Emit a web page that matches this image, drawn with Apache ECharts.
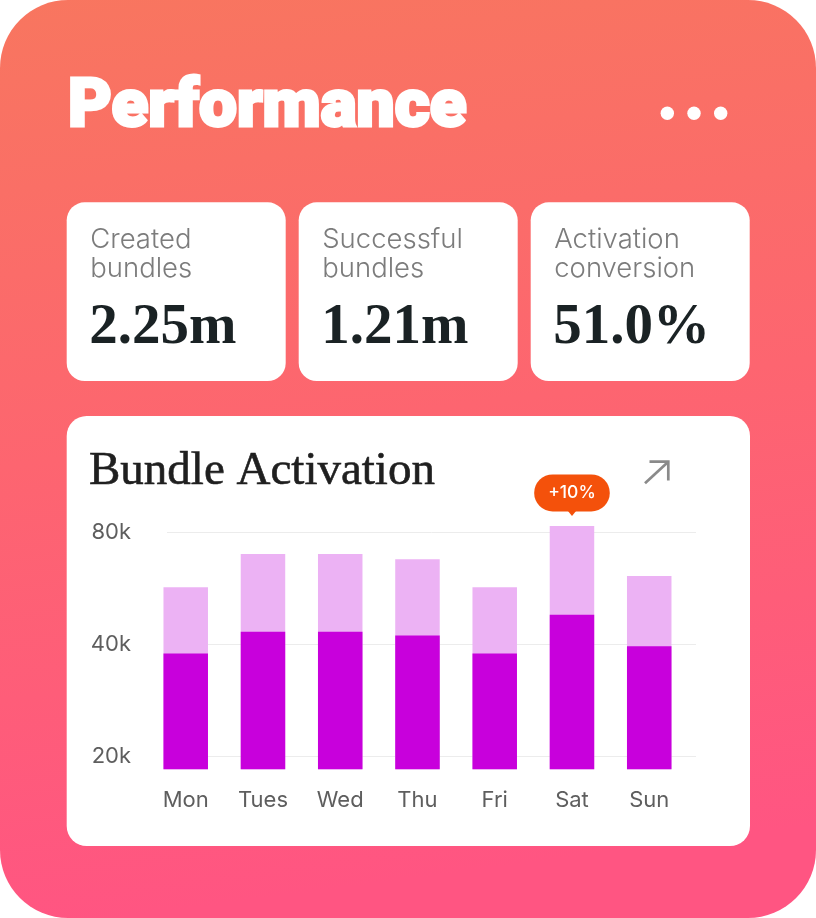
<!DOCTYPE html>
<html>
<head>
<meta charset="utf-8">
<script src="https://cdn.jsdelivr.net/npm/echarts@6/dist/echarts.min.js"></script>
<style>
html,body{margin:0;padding:0;background:#ffffff;}
#c{width:816px;height:918px;}
</style>
</head>
<body>
<div id="c"></div>
<script>
// ---- data ----
const pageTitle = 'Performance';
const chartTitle = 'Bundle Activation';
const statLabels = ['Created bundles', 'Successful bundles', 'Activation conversion'];
const statValues = ['2.25m', '1.21m', '51.0%'];
const days = ['Mon', 'Tues', 'Wed', 'Thu', 'Fri', 'Sat', 'Sun'];
const createdBundles = [56900, 69900, 69900, 67700, 56900, 83200, 61000];
const activatedBundles = [37800, 43200, 43200, 42200, 37800, 48000, 39500];
const yTickValues = [20000, 40000, 80000];
const badgeText = '+10%';

// ---- layout / style ----
const Y_MIN = 18450, Y_MAX = 125000;
const gridTop = 460.1, gridHeight = 309.2;
const sansFont = 'Inter, "Noto Sans", sans-serif';
const titleFont = 'Roboto, Inter, sans-serif';
const serifFont = '"Liberation Serif", "DejaVu Serif", serif';
const cardW = 219, cardStep = 232, cardX0 = 66.7;

const graphics = [];
graphics.push({
  type: 'rect', z: -10, silent: true,
  shape: { x: 0, y: 0, width: 816, height: 918, r: 68 },
  style: { fill: new echarts.graphic.LinearGradient(0, 0, 0.15, 1, [
    { offset: 0, color: '#F8765F' },
    { offset: 0.5, color: '#FD6570' },
    { offset: 1, color: '#FF5582' }
  ]) }
});
graphics.push({
  type: 'text', z: -9, silent: true,
  style: { text: pageTitle, x: 68, y: 109.5, fill: '#ffffff', fontFamily: titleFont,
    fontWeight: 900, fontSize: 67.5, align: 'left', verticalAlign: 'middle',
    stroke: '#ffffff', lineWidth: 3, lineJoin: 'round' }
});
[667.3, 694, 720.7].forEach(function (cx) {
  graphics.push({ type: 'circle', z: -9, silent: true,
    shape: { cx: cx, cy: 113.3, r: 6.7 }, style: { fill: '#ffffff' } });
});
statLabels.forEach(function (lab, i) {
  const x = cardX0 + i * cardStep;
  graphics.push({ type: 'rect', z: -9, silent: true,
    shape: { x: x, y: 202.3, width: cardW, height: 178.7, r: 18 }, style: { fill: '#ffffff' } });
  graphics.push({ type: 'text', z: -8, silent: true,
    style: { text: lab.replace(' ', '\n'), x: x + 23.5, y: 254, fill: '#7c7c7c', fontFamily: sansFont,
      fontWeight: 300, fontSize: 27.5, lineHeight: 29.5, align: 'left', verticalAlign: 'middle' } });
  graphics.push({ type: 'text', z: -8, silent: true,
    style: { text: statValues[i], x: x + 22.5, y: 328, fill: '#1a2224', fontFamily: serifFont,
      fontWeight: 'bold', fontSize: 57, align: 'left', verticalAlign: 'middle' } });
});
graphics.push({ type: 'rect', z: -9, silent: true,
  shape: { x: 66.7, y: 416, width: 683.3, height: 430, r: 20 }, style: { fill: '#ffffff' } });
graphics.push({ type: 'text', z: -8, silent: true,
  style: { text: chartTitle, x: 89, y: 472, fill: '#1f1f1f', fontFamily: serifFont,
    fontWeight: 'normal', fontSize: 47, align: 'left', verticalAlign: 'middle',
    stroke: '#1f1f1f', lineWidth: 0.6 } });
graphics.push({ type: 'polyline', z: -8, silent: true,
  shape: { points: [[645, 483.3], [668.3, 461.7]] },
  style: { stroke: '#8a8a8a', lineWidth: 2.7, fill: null } });
graphics.push({ type: 'polyline', z: -8, silent: true,
  shape: { points: [[649.5, 461.7], [668.3, 461.7], [668.3, 480.5]] },
  style: { stroke: '#8a8a8a', lineWidth: 2.7, fill: null, lineJoin: 'miter' } });

const chart = echarts.init(document.getElementById('c'), null, { renderer: 'canvas' });
chart.setOption({
  animation: false,
  graphic: { elements: graphics },
  grid: [
    { left: 167, top: gridTop, width: 529, height: gridHeight },
    { left: 147.1, top: gridTop, width: 540.75, height: gridHeight }
  ],
  xAxis: [
    { gridIndex: 0, type: 'category', data: days, show: false },
    { gridIndex: 1, type: 'category', data: days,
      axisLine: { show: false }, axisTick: { show: false },
      axisLabel: { color: '#5e5e5e', fontSize: 22, fontFamily: sansFont, margin: 31, verticalAlign: 'middle' } }
  ],
  yAxis: [
    { gridIndex: 0, type: 'log', logBase: 2, min: Y_MIN, max: Y_MAX,
      axisLine: { show: false },
      axisTick: { show: false, customValues: yTickValues },
      axisLabel: { customValues: yTickValues, color: '#5e5e5e', fontSize: 22, fontFamily: sansFont, margin: 36,
        formatter: function (v) { return Math.round(v / 1000) + 'k'; } },
      splitLine: { show: true, lineStyle: { color: '#ECECEC', width: 1 } } },
    { gridIndex: 1, type: 'log', logBase: 2, min: Y_MIN, max: Y_MAX, startValue: Y_MIN, show: false,
      splitLine: { show: false } }
  ],
  series: [
    { name: 'Created bundles', type: 'bar', xAxisIndex: 1, yAxisIndex: 1, data: createdBundles,
      barWidth: 44.5, barGap: '-100%', clip: true, itemStyle: { color: '#ECB2F4' },
      markPoint: {
        data: [
          { type: 'max', symbol: 'triangle', symbolSize: [13, 8], symbolRotate: 180, symbolOffset: [0, -14],
            itemStyle: { color: '#F4510B' }, label: { show: false } },
          { type: 'max', symbol: 'circle', symbolSize: 1, symbolOffset: [0, -33],
            itemStyle: { color: 'rgba(0,0,0,0)' },
            label: { show: true, position: 'inside', formatter: badgeText, color: '#ffffff',
              fontSize: 17.5, fontWeight: 500, fontFamily: sansFont, lineHeight: 19,
              backgroundColor: '#F4510B', borderRadius: 19, padding: [9, 14] } }
        ]
      } },
    { name: 'Activated bundles', type: 'bar', xAxisIndex: 1, yAxisIndex: 1, data: activatedBundles,
      barWidth: 44.5, barGap: '-100%', clip: true, itemStyle: { color: '#C800DC' } }
  ]
});
</script>
</body>
</html>
